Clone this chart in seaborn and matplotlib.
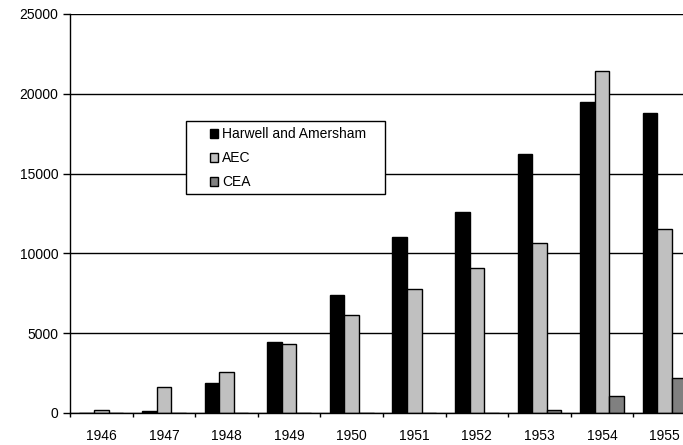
import numpy as np
import pandas as pd
import matplotlib
matplotlib.use('Agg')
import matplotlib.pyplot as plt
from matplotlib.patches import Rectangle, Patch
import seaborn as sns

# --- data ---
years = ['1946', '1947', '1948', '1949', '1950', '1951', '1952', '1953', '1954', '1955']
harwell = [0, 100, 1900, 4450, 7400, 11000, 12600, 16200, 19500, 18800]
aec = [200, 1650, 2600, 4350, 6150, 7800, 9100, 10650, 21450, 11500]
cea = [0, 0, 0, 0, 0, 0, 0, 200, 1050, 2200]
series = ['Harwell and Amersham', 'AEC', 'CEA']
colors = ['#000000', '#c0c0c0', '#808080']

df = pd.DataFrame({'year': years, 'Harwell and Amersham': harwell, 'AEC': aec, 'CEA': cea})
long_df = df.melt(id_vars='year', var_name='source', value_name='value')

sns.set_style('white')
plt.rcParams['font.family'] = ['Liberation Sans', 'DejaVu Sans']

fig = plt.figure(figsize=(6.83, 4.45), dpi=100)
W, H = 683, 445
# axes runs past the right edge of the picture, like the cropped original
ax = fig.add_axes([70 / W, (H - 413) / H, 626 / W, 399 / H])

sns.barplot(data=long_df, x='year', y='value', hue='source', hue_order=series,
            palette=colors, width=0.7, edgecolor='black', linewidth=1,
            saturation=1, legend=False, ax=ax)

ax.set_ylim(0, 25000)
ax.set_xlim(-0.5, len(years) - 0.5)
ax.set_yticks(np.arange(0, 25001, 5000))
ax.set_xlabel('')
ax.set_ylabel('')
ax.set_axisbelow(True)
ax.yaxis.grid(True, color='black', linewidth=1)
ax.xaxis.grid(False)

for s in ['top', 'right']:
    ax.spines[s].set_visible(False)
for s in ['left', 'bottom']:
    ax.spines[s].set_color('black')
    ax.spines[s].set_linewidth(1)

ax.tick_params(axis='y', direction='out', length=5, width=1, color='black',
               pad=3.5, labelsize=10, left=True, labelcolor='black')
ax.tick_params(axis='x', which='major', length=0, pad=11.5, labelsize=10,
               labelcolor='black')
ax.set_xticks(np.arange(len(years)) - 0.5, minor=True)
ax.tick_params(axis='x', which='minor', direction='out', length=3, width=1,
               color='black', bottom=True)

# legend box with white fill over the gridlines
ax.add_patch(Rectangle((186 / W, 1 - 194 / H), (385 - 186) / W, (194 - 121) / H,
                       transform=fig.transFigure, facecolor='white',
                       edgecolor='black', linewidth=1, zorder=4, clip_on=False))
handles = [Patch(facecolor=c, edgecolor='black', linewidth=1) for c in colors]
leg = ax.legend(handles, series, loc='upper left',
                bbox_to_anchor=(210 / W, 1 - 127.5 / H), bbox_transform=fig.transFigure,
                frameon=False, borderpad=0, borderaxespad=0, fontsize=10,
                handlelength=0.55, handleheight=0.55, handletextpad=0.3,
                labelspacing=0.72)
for t in leg.get_texts():
    t.set_color('black')
leg.set_zorder(5)

fig.savefig('out.png', dpi=100)
